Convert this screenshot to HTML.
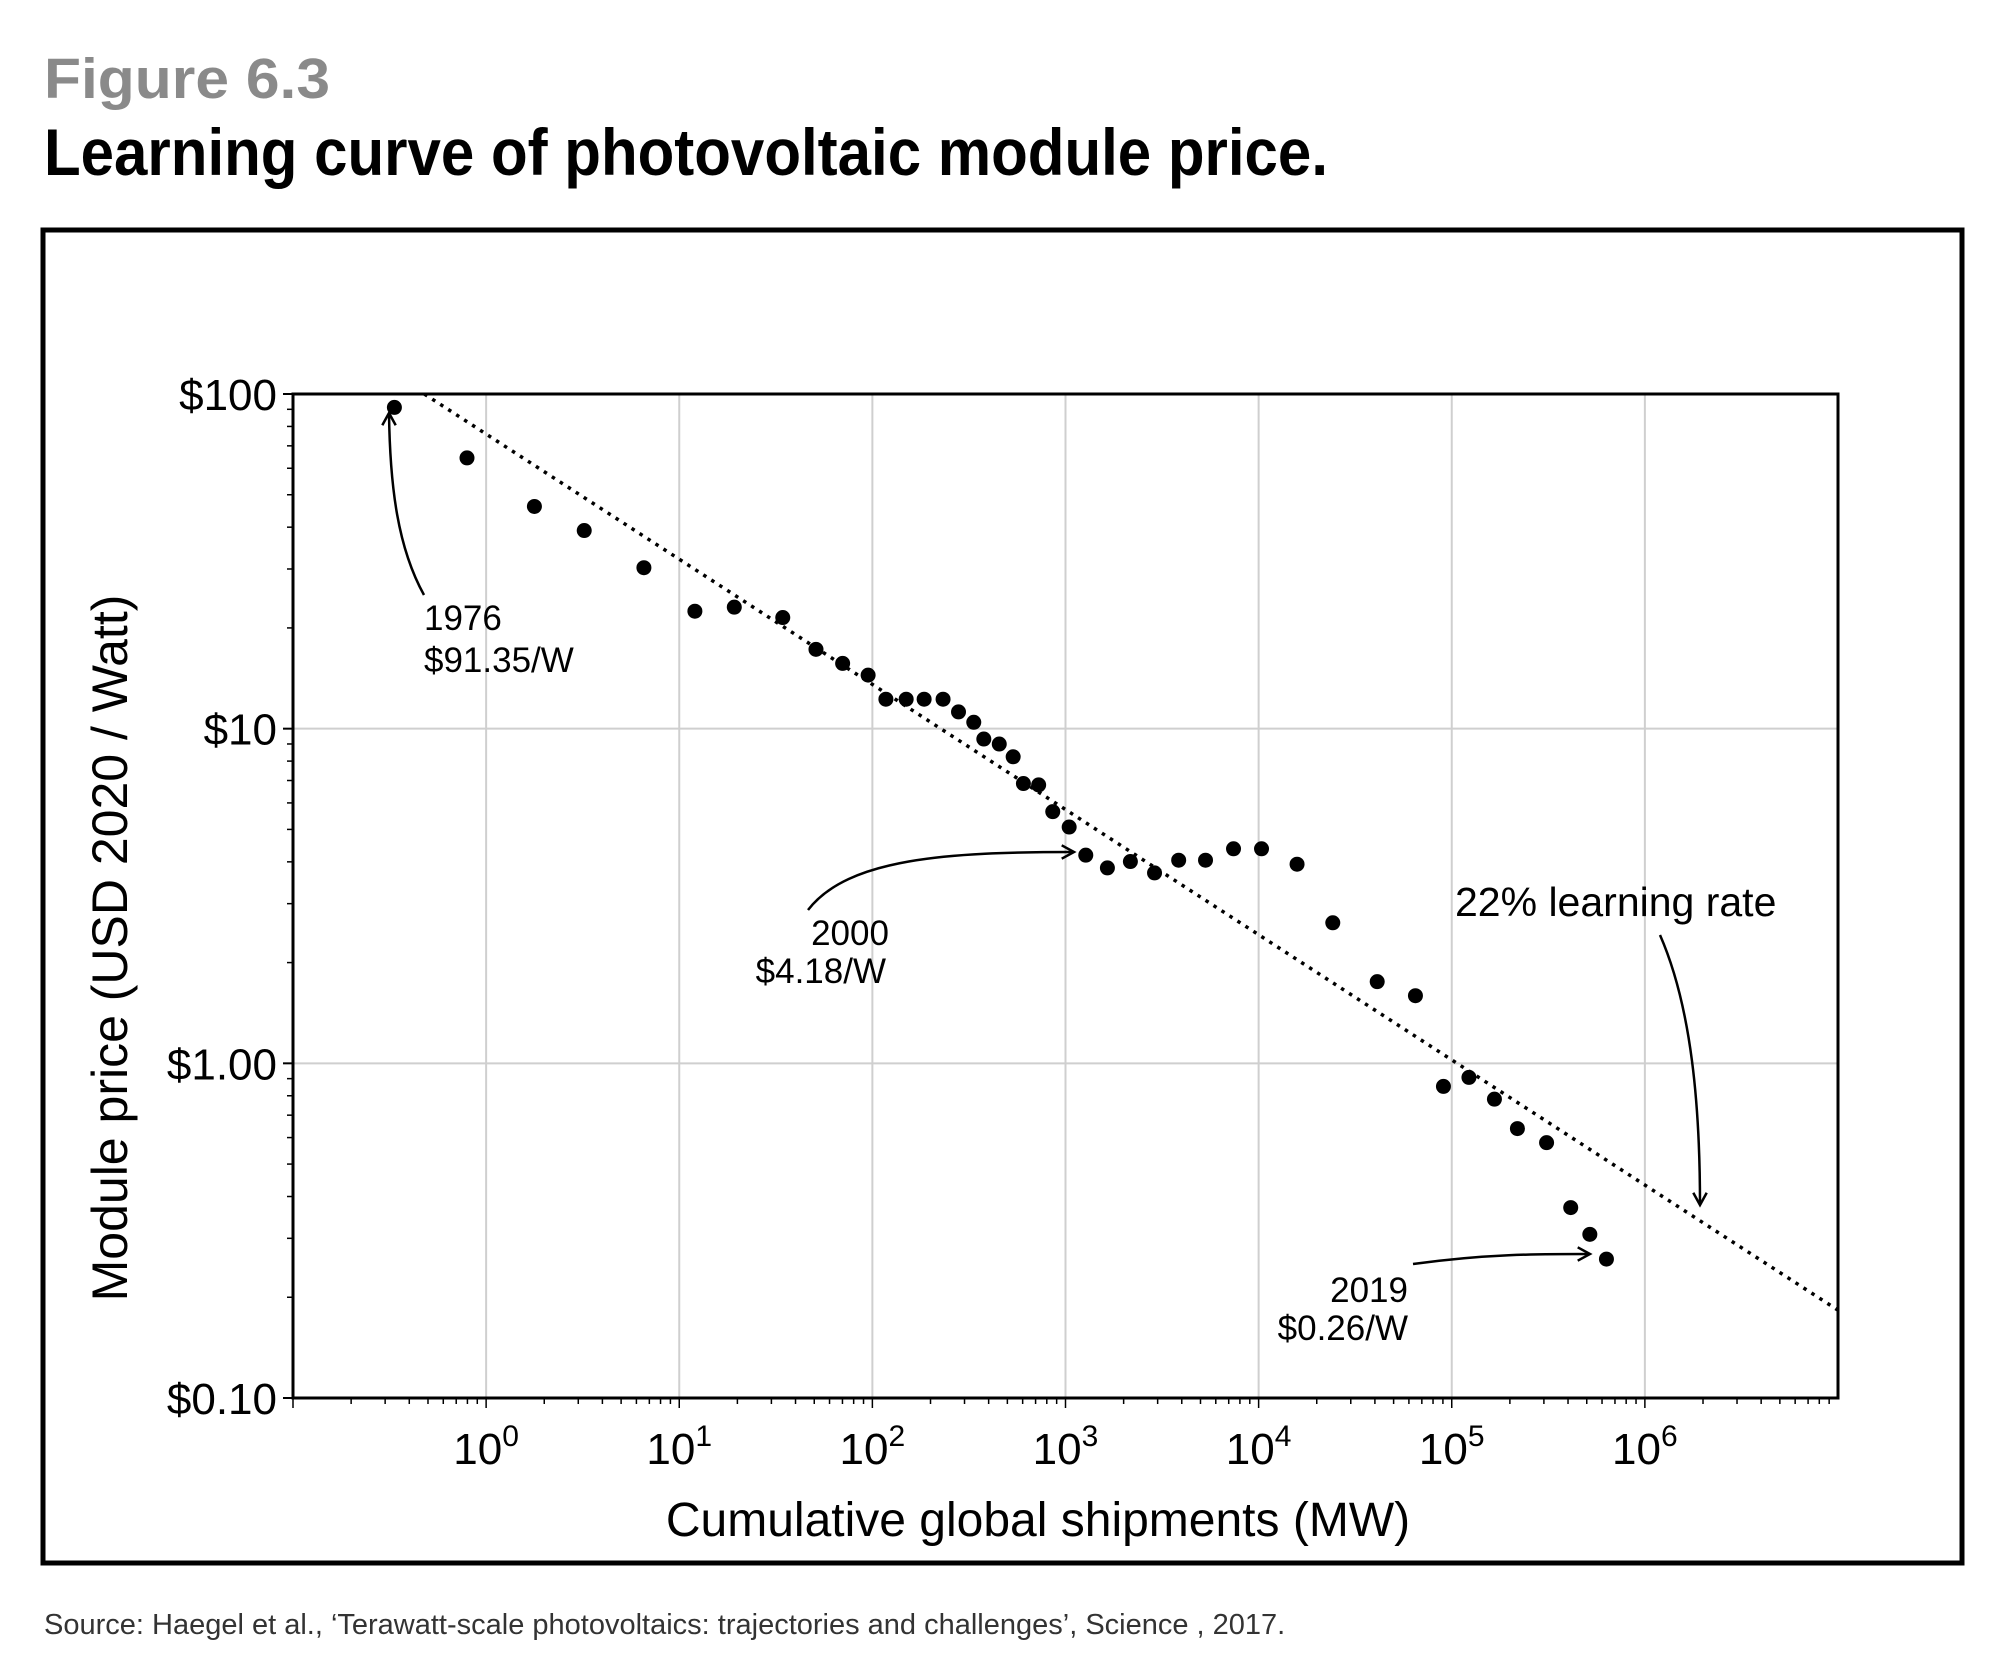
<!DOCTYPE html>
<html><head><meta charset="utf-8"><style>
html,body{margin:0;padding:0;background:#fff;width:2000px;height:1663px;overflow:hidden}
svg{display:block}
.t{font-family:"Liberation Sans",sans-serif}
</style></head><body>
<svg id="fig" width="2000" height="1663" viewBox="0 0 2000 1663" xmlns="http://www.w3.org/2000/svg">
<text class="t" x="44" y="98" font-size="57" font-weight="bold" fill="#8a8a8a" textLength="286" lengthAdjust="spacingAndGlyphs">Figure 6.3</text>
<text class="t" x="44" y="175" font-size="66" font-weight="bold" fill="#000" textLength="1284" lengthAdjust="spacingAndGlyphs">Learning curve of photovoltaic module price.</text>
<rect x="43" y="230" width="1919" height="1333" fill="none" stroke="#000" stroke-width="5"/>
<g id="grid"></g>
<g id="axes"></g>
<g id="marks"></g>
<g id="ann"></g>
<text class="t" x="1038" y="1536" font-size="48" text-anchor="middle" fill="#000">Cumulative global shipments (MW)</text>
<text class="t" x="0" y="0" font-size="50" text-anchor="middle" fill="#000" transform="translate(127,948) rotate(-90)">Module price (USD 2020 / Watt)</text>
<text class="t" x="44" y="1634" font-size="29" fill="#333">Source: Haegel et al., ‘Terawatt-scale photovoltaics: trajectories and challenges’, Science , 2017.</text>
</svg>
<script>
// data in log10 units
const logShipments = [-0.475,-0.099,0.25,0.508,0.817,1.081,1.285,1.536,1.708,1.846,1.978,2.07,2.175,2.268,2.366,2.446,2.525,2.577,2.657,2.729,2.782,2.861,2.934,3.019,3.105,3.217,3.336,3.461,3.586,3.725,3.870,4.015,4.199,4.384,4.614,4.812,4.957,5.089,5.221,5.340,5.491,5.616,5.715,5.801];
const logPrices = [1.96,1.809,1.664,1.592,1.481,1.351,1.363,1.332,1.237,1.195,1.160,1.088,1.088,1.088,1.088,1.05,1.019,0.969,0.954,0.916,0.836,0.832,0.752,0.706,0.622,0.584,0.603,0.569,0.607,0.607,0.641,0.641,0.595,0.420,0.244,0.202,-0.069,-0.042,-0.107,-0.195,-0.237,-0.431,-0.511,-0.585];
const yTickLabels = ["$100","$10","$1.00","$0.10"];
const yTickValues = [2,1,0,-1];
const xTickExps = ["0","1","2","3","4","5","6"];
const trendStart = [-0.32, 2.0];
const trendSlope = [-0.374];

const NS="http://www.w3.org/2000/svg";
const L=293,R=1838,T=394,B=1398;
const X=v=>L+(v+1)/8*(R-L);
const Y=v=>T+(2-v)/3*(B-T);
function mk(tag,attrs,parent){const e=document.createElementNS(NS,tag);for(const k in attrs)e.setAttribute(k,attrs[k]);parent.appendChild(e);return e;}
const grid=document.getElementById('grid'),axes=document.getElementById('axes'),marks=document.getElementById('marks'),ann=document.getElementById('ann');

xTickExps.forEach(e=>{const x=X(+e);
 const g=mk('line',{x1:x,x2:x,y1:T,y2:B,stroke:'#cfcfcf','stroke-width':2},grid);
 
 
 const t=mk('text',{x:x,y:B+66,'font-size':44,'text-anchor':'middle',class:'t'},axes);
 
 
 t.textContent='10';
 const s=mk('tspan',{dy:-18,'font-size':30},t);s.textContent=e;
});
yTickValues.forEach((v,i)=>{const y=Y(v);
 if(v<2&&v>-1){const g=mk('line',{x1:L,x2:R,y1:y,y2:y,stroke:'#cfcfcf','stroke-width':2},grid);
 
 }
 const t=mk('text',{x:277,y:y+16,'font-size':44,'text-anchor':'end',class:'t'},axes);
 
 
 t.textContent=yTickLabels[i];
 mk('line',{x1:L-10,x2:L,y1:y,y2:y,stroke:'#000','stroke-width':2},axes);
});
for(let d=-1;d<2;d++)for(let m=2;m<10;m++){const y=Y(d+Math.log10(m));mk('line',{x1:L-6,x2:L,y1:y,y2:y,stroke:'#000','stroke-width':1.5},axes);}
for(let d=-1;d<7;d++)for(let m=1;m<10;m++){const x=X(d+Math.log10(m));mk('line',{x1:x,x2:x,y1:B,y2:B+(m==1?10:6),stroke:'#000','stroke-width':1.5},axes);}
const fr=mk('rect',{x:L,y:T,width:R-L,height:B-T,fill:'none',stroke:'#000','stroke-width':3},axes);



const x0=trendStart[0],y0=trendStart[1],x1=7,y1=y0+trendSlope[0]*(x1-x0);
const tl=mk('line',{x1:X(x0),y1:Y(y0),x2:X(x1),y2:Y(y1),stroke:'#000','stroke-width':3.5,'stroke-dasharray':'3.5 6'},marks);



logShipments.forEach((v,i)=>{
 const c=mk('circle',{cx:X(v),cy:Y(logPrices[i]),r:7.5,fill:'#000'},marks);
 
 
});

function arrow(d,tip,ang,name){
 const p=mk('path',{d:d,fill:'none',stroke:'#000','stroke-width':2.5},ann);
 
 
 const a=ang*Math.PI/180,s=14;
 const h=`M${tip[0]+s*Math.cos(a+0.5)},${tip[1]+s*Math.sin(a+0.5)} L${tip[0]},${tip[1]} L${tip[0]+s*Math.cos(a-0.5)},${tip[1]+s*Math.sin(a-0.5)}`;
 mk('path',{d:h,fill:'none',stroke:'#000','stroke-width':2.5},ann);
}
function label(x,y,txt,anchor,size,name){const t=mk('text',{x:x,y:y,'font-size':size,'text-anchor':anchor,class:'t'},ann);
 
 
 t.textContent=txt;}
arrow('M424,595 C398,548 390,488 389,413',[389,413],90,'arrow-1976');
label(424,630,'1976','start',35,'label-1976');
label(424,672,'$91.35/W','start',35,'label-1976-price');
arrow('M808,910 C848,858 948,852 1074,852',[1074,852],180,'arrow-2000');
label(850,945,'2000','middle',35,'label-2000');
label(886,983,'$4.18/W','end',35,'label-2000-price');
arrow('M1413,1264 C1486,1254 1536,1254 1590,1254',[1590,1254],180,'arrow-2019');
label(1408,1302,'2019','end',35,'label-2019');
label(1408,1340,'$0.26/W','end',35,'label-2019-price');
arrow('M1660,935 C1692,1008 1700,1108 1700,1205',[1700,1205],-90,'arrow-learning-rate');
label(1455,916,'22% learning rate','start',41,'label-learning-rate');
</script>
</body></html>
